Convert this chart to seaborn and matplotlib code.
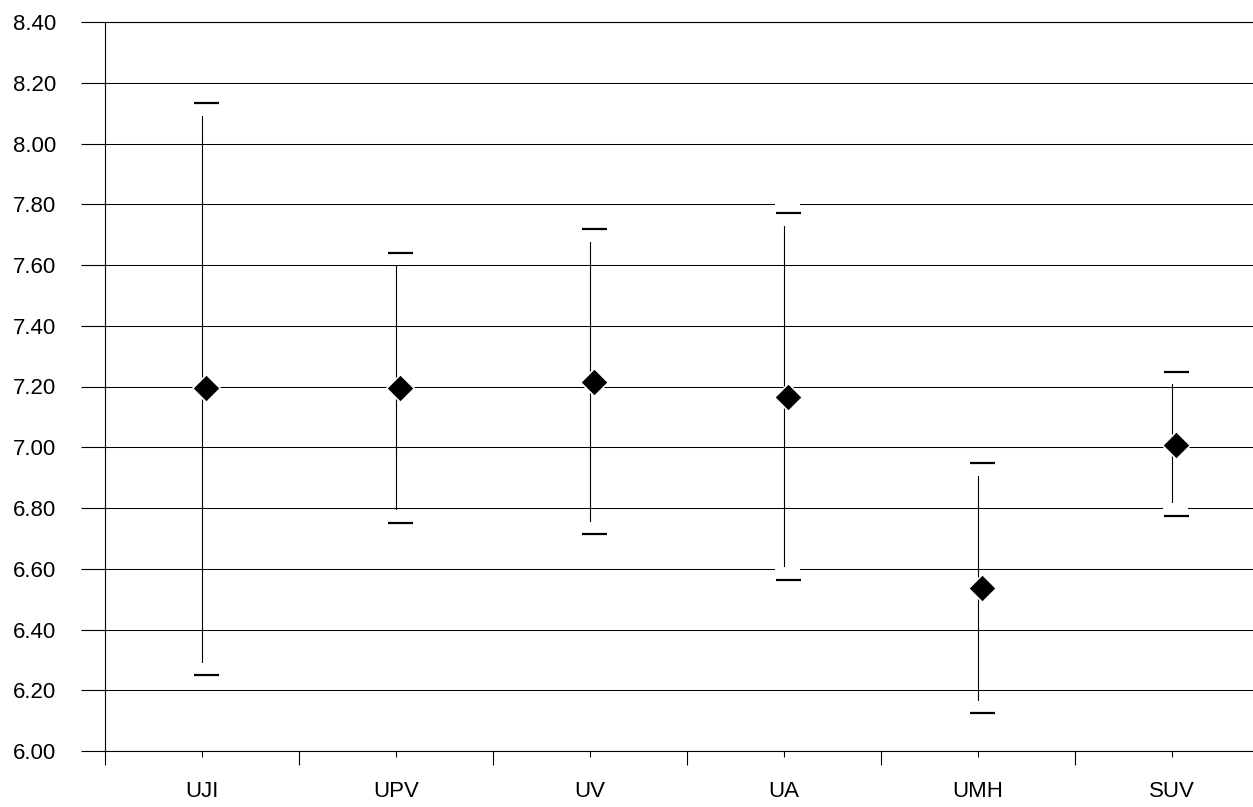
import numpy as np
import pandas as pd
import seaborn as sns
from matplotlib import pyplot as plt

cats = ['UJI', 'UPV', 'UV', 'UA', 'UMH', 'SUV']
means = [7.195, 7.195, 7.215, 7.165, 6.537, 7.008]
upper = [8.133, 7.640, 7.718, 7.771, 6.948, 7.248]
lower = [6.250, 6.751, 6.714, 6.563, 6.125, 6.774]
yticks = [6.0, 6.2, 6.4, 6.6, 6.8, 7.0, 7.2, 7.4, 7.6, 7.8, 8.0, 8.2, 8.4]

sns.set_style('white')
plt.rcParams['font.family'] = ['Liberation Sans', 'DejaVu Sans']
plt.rcParams['font.size'] = 16
plt.rcParams['text.color'] = 'black'
plt.rcParams['xtick.color'] = 'black'
plt.rcParams['ytick.color'] = 'black'

fig = plt.figure(figsize=(12.53, 8.07), dpi=100)
ax = fig.add_axes([105 / 1253, 56 / 807, 1164 / 1253, 729 / 807])

x = np.arange(len(cats))
off = 0.02  # markers sit a little right of the whisker
df = pd.DataFrame({'x': x + off, 'mean': means, 'upper': upper, 'lower': lower})

# whiskers
ax.vlines(x, lower, upper, color='black', lw=0.8, zorder=3)

# caps: white box with a dash inside
for col in ['upper', 'lower']:
    sns.scatterplot(df, x='x', y=col, marker='s', s=324, color='white', edgecolor='none',
                    ax=ax, zorder=4, legend=False)
    sns.scatterplot(df, x='x', y=col, marker='_', s=324, color='black', linewidth=1.6,
                    ax=ax, zorder=5, legend=False)

# means
sns.scatterplot(df, x='x', y='mean', marker='D', s=200, color='black', edgecolor='white',
                linewidth=1.2, ax=ax, zorder=6, legend=False)

ax.set_xlim(-0.5, len(cats) - 0.5)
ax.set_ylim(6.0, 8.4)
ax.set_yticks(yticks, [f'{v:.2f}' for v in yticks])
ax.set_xticks(x, cats)
ax.set_xticks(np.arange(len(cats) + 1) - 0.5, minor=True)
ax.set_xlabel('')
ax.set_ylabel('')

ax.yaxis.grid(True, color='black', lw=0.75)
ax.set_axisbelow(True)
for s in ax.spines.values():
    s.set_color('black')
    s.set_linewidth(0.8)

ax.tick_params(axis='y', direction='out', length=17, width=0.8, pad=18, left=True,
               color='black', labelcolor='black')
ax.tick_params(axis='x', which='major', direction='out', length=4.5, width=0.8, pad=17, bottom=True,
               color='black', labelcolor='black')
ax.tick_params(axis='x', which='minor', direction='out', length=10, width=0.8, bottom=True, color='black')

fig.savefig('out.png', dpi=100)
